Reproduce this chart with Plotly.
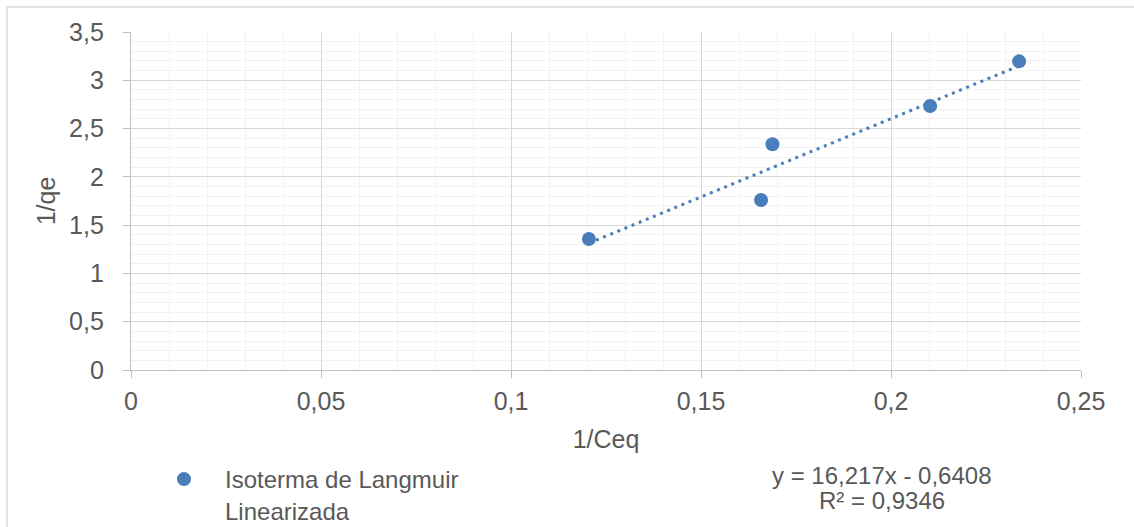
import plotly.graph_objects as go

# ---- data ----
inv_ceq = [0.1205, 0.1658, 0.1688, 0.2103, 0.2337]
inv_qe = [1.356, 1.760, 2.337, 2.734, 3.196]
series_name = "Isoterma de Langmuir<br>Linearizada"
trend_slope = 16.217
trend_intercept = -0.6408
r_squared = 0.9346
x_title = "1/Ceq"
y_title = "1/qe"

# ---- styles ----
W, H = 1134, 527
L, R, T, B = 131, 53, 32, 157
FONT = "Liberation Sans, Arial, sans-serif"
TXT = "#595959"
BLUE = "#4a7ebb"
FS = 25

pw = W - L - R
ph = H - T - B


def px_x(p):
    return (p - L) / pw


def px_y(p):
    return (H - B - p) / ph


def fmt(v, nd):
    return f"{v:.{nd}f}".replace(".", ",")


trend_x = [min(inv_ceq), max(inv_ceq)]
trend_y = [trend_slope * v + trend_intercept for v in trend_x]

fig = go.Figure()
fig.add_trace(go.Scatter(
    x=trend_x, y=trend_y, mode="lines",
    line=dict(color=BLUE, width=3, dash="3px,4.7px"),
    showlegend=False, hoverinfo="skip",
))
fig.add_trace(go.Scatter(
    x=inv_ceq, y=inv_qe, mode="markers", name=series_name,
    marker=dict(color=BLUE, size=14),
))

sign = "-" if trend_intercept < 0 else "+"
eq_line1 = f"y = {fmt(trend_slope, 3)}x {sign} {fmt(abs(trend_intercept), 4)}"
eq_line2 = f"R² = {fmt(r_squared, 4)}"

for txt, yc in ((eq_line1, 475), (eq_line2, 500)):
    fig.add_annotation(
        x=px_x(882), y=px_y(yc), xref="paper", yref="paper",
        text=txt, showarrow=False, align="center",
        xanchor="center", yanchor="middle",
        font=dict(family=FONT, size=FS - 1, color=TXT),
    )

fig.add_shape(
    type="rect", xref="paper", yref="paper",
    x0=px_x(7), x1=px_x(1145), y0=px_y(7), y1=px_y(540),
    line=dict(color="#d9d9d9", width=1.5), layer="below",
)

axis_common = dict(
    showline=True, linecolor="#bfbfbf", linewidth=1.3,
    ticks="outside", ticklen=7, tickcolor="#bfbfbf", tickwidth=1.3,
    showgrid=True, gridcolor="#d9d9d9", gridwidth=1.3,
    zeroline=False,
    tickfont=dict(family=FONT, size=FS, color=TXT),
)

fig.update_xaxes(
    range=[0, 0.25], dtick=0.05, tick0=0,
    minor=dict(dtick=0.01, showgrid=True, gridcolor="#f2f2f2", gridwidth=1.3, ticks=""),
    title=dict(text=x_title, font=dict(family=FONT, size=FS, color=TXT), standoff=16),
    ticklabelstandoff=2,
    **axis_common,
)
fig.update_yaxes(
    range=[0, 3.5], dtick=0.5, tick0=0,
    minor=dict(dtick=0.1, showgrid=True, gridcolor="#f2f2f2", gridwidth=1.3, ticks=""),
    title=dict(text=y_title, font=dict(family=FONT, size=FS, color=TXT), standoff=6),
    ticklabelstandoff=14,
    **axis_common,
)

fig.update_layout(
    width=W, height=H,
    margin=dict(l=L, r=R, t=T, b=B, autoexpand=False),
    paper_bgcolor="white", plot_bgcolor="white",
    separators=",.",
    font=dict(family=FONT, size=FS, color=TXT),
    showlegend=True,
    legend=dict(
        x=px_x(143), y=px_y(457), xanchor="left", yanchor="top",
        orientation="v", valign="top", bgcolor="rgba(0,0,0,0)",
        itemwidth=72,
        font=dict(family=FONT, size=FS - 1, color=TXT),
    ),
)

fig.write_html("out.html")
